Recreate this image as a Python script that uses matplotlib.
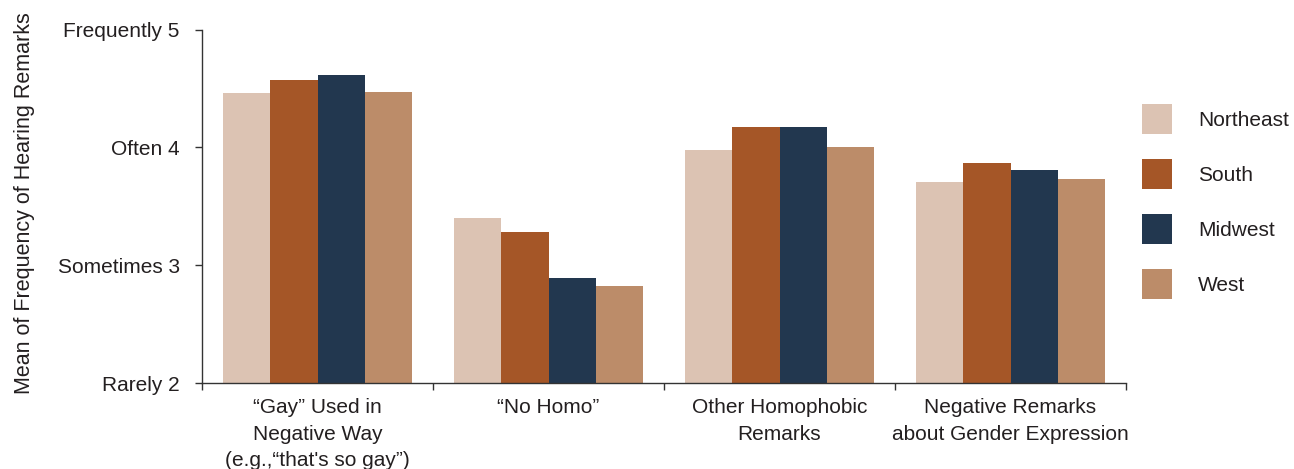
import matplotlib
matplotlib.use("Agg")
import matplotlib.pyplot as plt
from matplotlib.patches import Patch
import numpy as np

plt.rcParams['font.family'] = ['Liberation Sans', 'DejaVu Sans']

categories = ['\u201cGay\u201d Used in\nNegative Way\n(e.g.,\u201cthat\'s so gay\u201d)',
              '\u201cNo Homo\u201d',
              'Other Homophobic\nRemarks',
              'Negative Remarks\nabout Gender Expression']
regions = ['Northeast', 'South', 'Midwest', 'West']
northeast = [4.46, 3.40, 3.98, 3.71]
south = [4.57, 3.28, 4.17, 3.87]
midwest = [4.61, 2.89, 4.17, 3.81]
west = [4.47, 2.82, 4.00, 3.73]
colors = ['#dcc3b3', '#a55627', '#22374f', '#bc8c69']
ytick_labels = ['Rarely 2', 'Sometimes 3', 'Often 4', 'Frequently 5']

text_color = '#231f20'
fs = 15

fig = plt.figure(figsize=(12.94, 4.69), dpi=100)
ax = fig.add_axes([202 / 1294, 1 - 383 / 469, 924 / 1294, 353.5 / 469])

series = [northeast, south, midwest, west]
x = np.arange(len(categories)) + 0.5
bar_w = 0.2035
for i, (vals, c) in enumerate(zip(series, colors)):
    ax.bar(x + (i - 1.5) * bar_w, np.array(vals) - 2, bottom=2, width=bar_w,
           color=c, label=regions[i], linewidth=0)

ax.set_xlim(0, 4)
ax.set_ylim(2, 5)
ax.set_yticks([2, 3, 4, 5])
ax.set_yticklabels(ytick_labels, fontsize=fs, color=text_color)
ax.tick_params(axis='y', length=5, width=1, pad=11, color='#333333')

ax.set_xticks([0, 1, 2, 3, 4])
ax.set_xticklabels([])
ax.set_xticks(x, minor=True)
ax.set_xticklabels(categories, minor=True, fontsize=fs, color=text_color,
                   linespacing=1.5, va='top')
ax.tick_params(axis='x', which='major', length=5, width=1, color='#333333')
ax.tick_params(axis='x', which='minor', length=0, pad=11)

for s in ['top', 'right']:
    ax.spines[s].set_visible(False)
for s in ['left', 'bottom']:
    ax.spines[s].set_color('#333333')
    ax.spines[s].set_linewidth(1)

ax.set_ylabel('Mean of Frequency of Hearing Remarks', fontsize=15.5, color=text_color)
ax.yaxis.set_label_coords(-0.181, 0.51)

# square swatches, 30 px each
handles = [Patch(facecolor=c, edgecolor='none') for c in colors]
fig.legend(handles, regions, loc='upper left', bbox_to_anchor=(1142 / 1294, 1 - 104 / 469),
           frameon=False, fontsize=fs, handlelength=1.44, handleheight=1.84,
           labelspacing=1.2, handletextpad=1.25, borderpad=0, borderaxespad=0,
           labelcolor=text_color)

fig.savefig('out.png', dpi=100)
